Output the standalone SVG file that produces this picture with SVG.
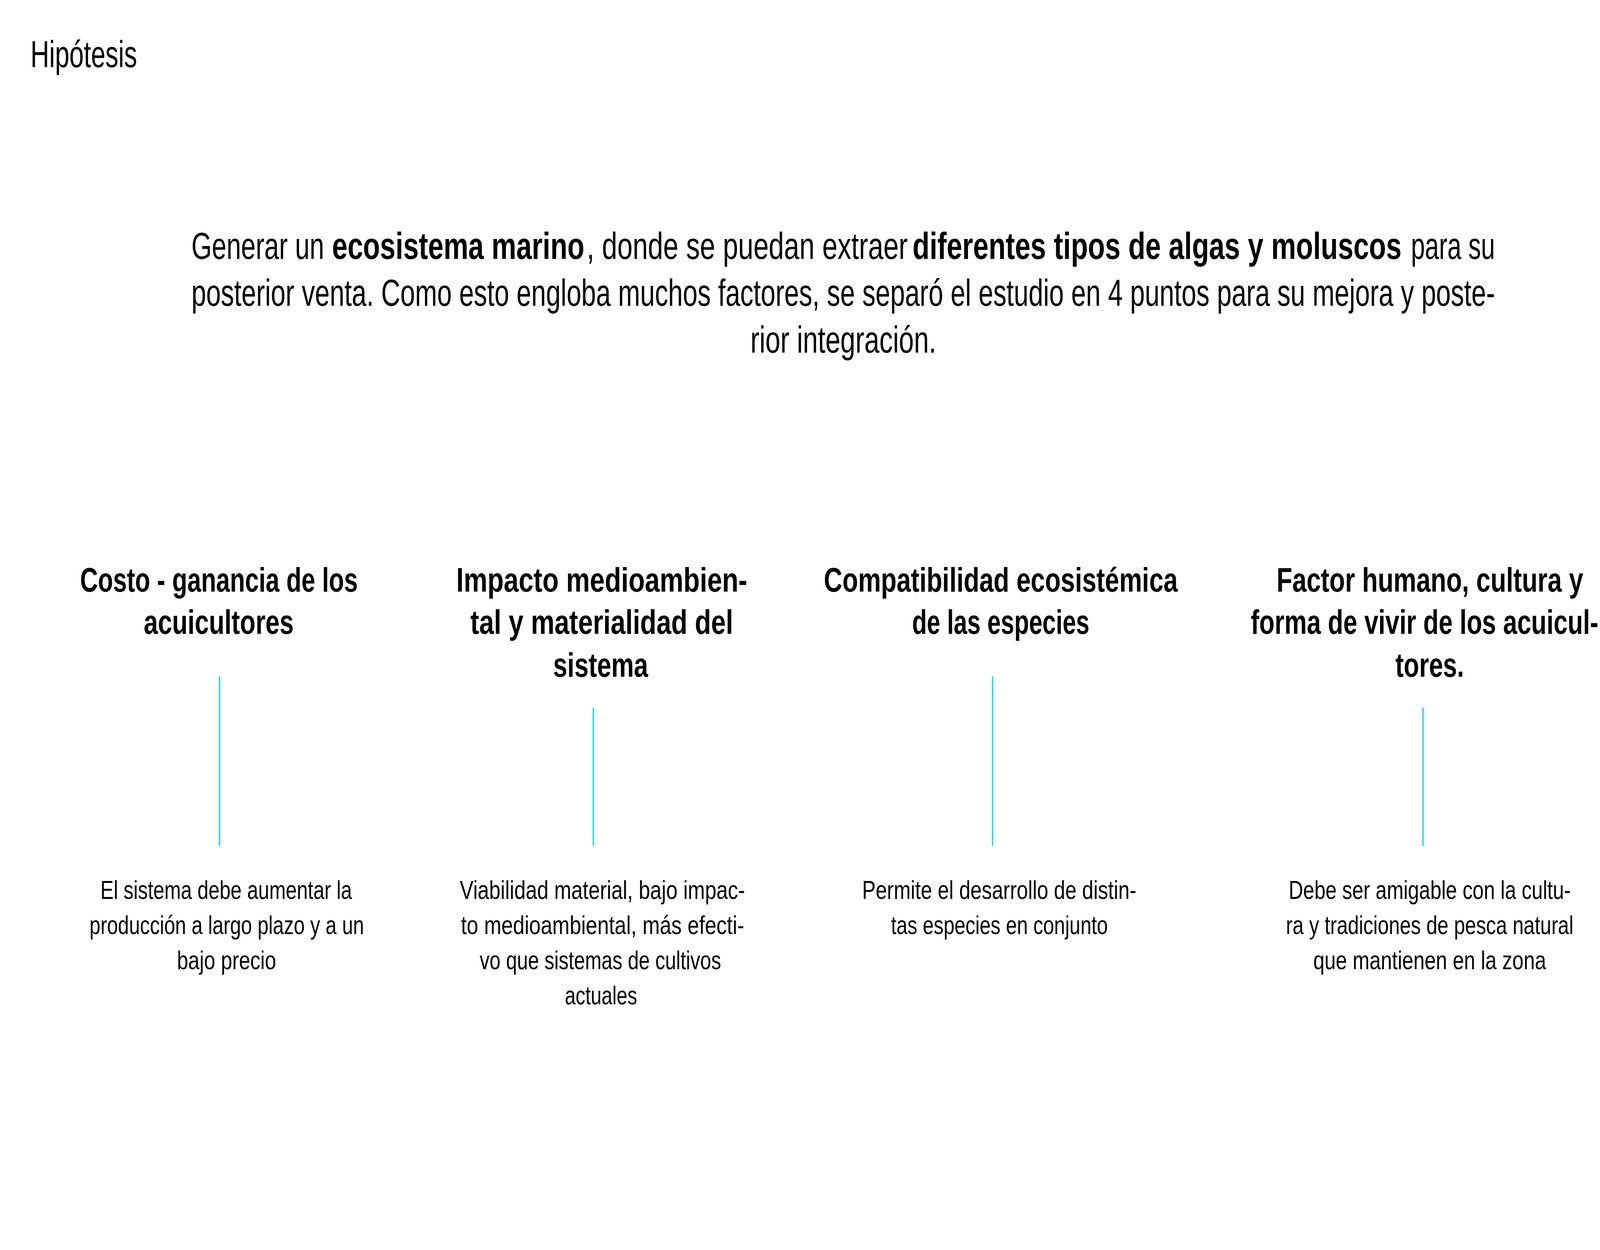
<svg xmlns="http://www.w3.org/2000/svg" width="4309" height="3201" viewBox="0 0 4309 3201">
<style>
.t{font-family:"Liberation Sans Narrow","Liberation Sans","Noto Sans",Arial,sans-serif;fill:#000}
.r{font-weight:400}
.b{font-weight:700}
.title{font-size:96px}
.p{font-size:96px}
.h{font-size:88px;font-weight:700}
.d{font-size:66px}
.c{stroke:#30DCE0;stroke-width:4;fill:none}
</style>
<rect width="4309" height="3201" fill="#ffffff"/>
<g id="title">
<text class="t title" x="78" y="172" textLength="273" lengthAdjust="spacingAndGlyphs">Hipótesis</text>
</g>
<g id="intro">
<text class="t p r" y="663"><tspan x="490" textLength="340" lengthAdjust="spacingAndGlyphs">Generar un</tspan><tspan class="b" x="850" textLength="646" lengthAdjust="spacingAndGlyphs">ecosistema marino</tspan><tspan x="1502" textLength="822" lengthAdjust="spacingAndGlyphs">, donde se puedan extraer</tspan><tspan class="b" x="2336" textLength="1252" lengthAdjust="spacingAndGlyphs">diferentes tipos de algas y moluscos</tspan><tspan x="3612" textLength="215" lengthAdjust="spacingAndGlyphs">para su</tspan></text>
<text class="t p r" x="490" y="783" textLength="3337" lengthAdjust="spacingAndGlyphs">posterior venta. Como esto engloba muchos factores, se separó el estudio en 4 puntos para su mejora y poste-</text>
<text class="t p r" x="1921" y="903" textLength="476" lengthAdjust="spacingAndGlyphs">rior integración.</text>
</g>
<g id="connectors">
<line class="c" x1="562" y1="1732" x2="562" y2="2166"/>
<line class="c" x1="1519" y1="1812" x2="1519" y2="2166"/>
<line class="c" x1="2541" y1="1732" x2="2541" y2="2166"/>
<line class="c" x1="3643" y1="1812" x2="3643" y2="2166"/>
</g>
<g id="node-costo">
<text class="t h" x="205" y="1515" textLength="711" lengthAdjust="spacingAndGlyphs">Costo - ganancia de los</text>
<text class="t h" x="368" y="1623" textLength="384" lengthAdjust="spacingAndGlyphs">acuicultores</text>
<text class="t d" x="257" y="2302" textLength="644" lengthAdjust="spacingAndGlyphs">El sistema debe aumentar la</text>
<text class="t d" x="229" y="2392" textLength="703" lengthAdjust="spacingAndGlyphs">producción a largo plazo y a un</text>
<text class="t d" x="453" y="2482" textLength="254" lengthAdjust="spacingAndGlyphs">bajo precio</text>
</g>
<g id="node-impacto">
<text class="t h" x="1168" y="1515" textLength="745" lengthAdjust="spacingAndGlyphs">Impacto medioambien-</text>
<text class="t h" x="1204" y="1623" textLength="673" lengthAdjust="spacingAndGlyphs">tal y materialidad del</text>
<text class="t h" x="1416" y="1733" textLength="243" lengthAdjust="spacingAndGlyphs">sistema</text>
<text class="t d" x="1177" y="2302" textLength="730" lengthAdjust="spacingAndGlyphs">Viabilidad material, bajo impac-</text>
<text class="t d" x="1180" y="2392" textLength="725" lengthAdjust="spacingAndGlyphs">to medioambiental, más efecti-</text>
<text class="t d" x="1228" y="2482" textLength="618" lengthAdjust="spacingAndGlyphs">vo que sistemas de cultivos</text>
<text class="t d" x="1446" y="2572" textLength="185" lengthAdjust="spacingAndGlyphs">actuales</text>
</g>
<g id="node-compatibilidad">
<text class="t h" x="2109" y="1515" textLength="906" lengthAdjust="spacingAndGlyphs">Compatibilidad ecosistémica</text>
<text class="t h" x="2335" y="1623" textLength="454" lengthAdjust="spacingAndGlyphs">de las especies</text>
<text class="t d" x="2207" y="2302" textLength="702" lengthAdjust="spacingAndGlyphs">Permite el desarrollo de distin-</text>
<text class="t d" x="2281" y="2392" textLength="555" lengthAdjust="spacingAndGlyphs">tas especies en conjunto</text>
</g>
<g id="node-factor">
<text class="t h" x="3268" y="1515" textLength="785" lengthAdjust="spacingAndGlyphs">Factor humano, cultura y</text>
<text class="t h" x="3202" y="1623" textLength="890" lengthAdjust="spacingAndGlyphs">forma de vivir de los acuicul-</text>
<text class="t h" x="3572" y="1733" textLength="176" lengthAdjust="spacingAndGlyphs">tores.</text>
<text class="t d" x="3299" y="2302" textLength="722" lengthAdjust="spacingAndGlyphs">Debe ser amigable con la cultu-</text>
<text class="t d" x="3292" y="2392" textLength="736" lengthAdjust="spacingAndGlyphs">ra y tradiciones de pesca natural</text>
<text class="t d" x="3362" y="2482" textLength="596" lengthAdjust="spacingAndGlyphs">que mantienen en la zona</text>
</g>
</svg>
